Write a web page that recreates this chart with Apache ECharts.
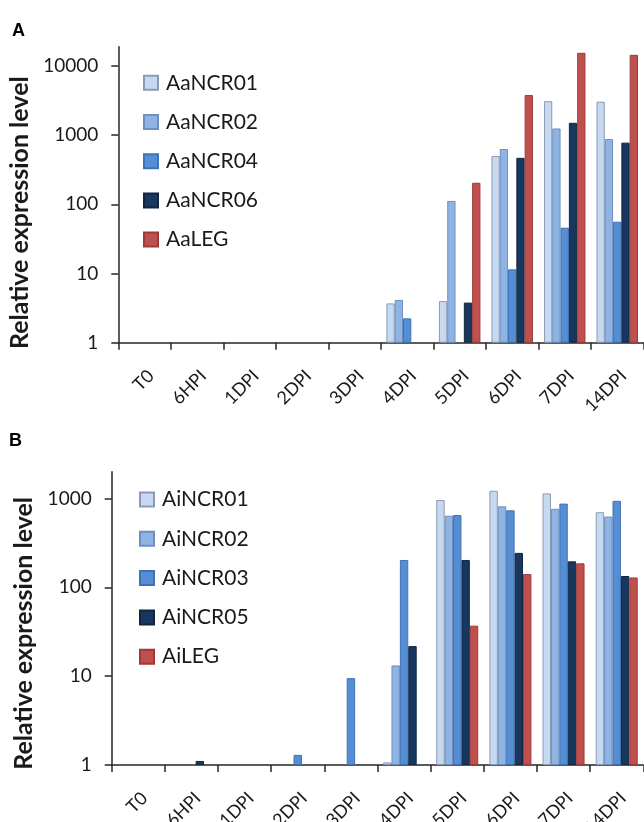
<!DOCTYPE html>
<html>
<head>
<meta charset="utf-8">
<script src="https://cdn.jsdelivr.net/npm/echarts@6/dist/echarts.min.js"></script>
<style>
  html, body { margin: 0; padding: 0; background: #ffffff; }
  #chart { width: 644px; height: 822px; }
</style>
</head>
<body>
<div id="chart"></div>
<script>
// ---- Data ----
const categories = ['T0', '6HPI', '1DPI', '2DPI', '3DPI', '4DPI', '5DPI', '6DPI', '7DPI', '14DPI'];
const yTicksA = [1, 10, 100, 1000, 10000];
const yTicksB = [1, 10, 100, 1000];

// Panel A
const namesA = ['AaNCR01', 'AaNCR02', 'AaNCR04', 'AaNCR06', 'AaLEG'];
const AaNCR01 = [null, null, null, null, null, 3.7, 4.0, 500, 3100, 3050];
const AaNCR02 = [null, null, null, null, null, 4.15, 112, 630, 1250, 880];
const AaNCR04 = [null, null, null, null, null, 2.25, null, 11.5, 46, 56];
const AaNCR06 = [null, null, null, null, null, null, 3.8, 470, 1510, 780];
const AaLEG   = [null, null, null, null, null, null, 205, 3800, 15500, 14500];

// Panel B
const namesB = ['AiNCR01', 'AiNCR02', 'AiNCR03', 'AiNCR05', 'AiLEG'];
const AiNCR01 = [null, null, null, null, null, 1.07, 960, 1220, 1140, 700];
const AiNCR02 = [null, null, null, null, null, 13.2, 640, 815, 765, 625];
const AiNCR03 = [null, null, null, 1.3, 9.5, 203, 650, 735, 875, 940];
const AiNCR05 = [null, 1.11, null, null, null, 21.8, 203, 244, 196, 134];
const AiLEG   = [null, null, null, null, null, null, 37, 141, 186, 129];

// ---- Styles ----
const fills   = ['#c6d9f1', '#8eb4e3', '#558ed5', '#17375e', '#c0504d'];
const borders = ['#8a9bb3', '#6f8fbd', '#3f72b5', '#10263f', '#9c3b39'];
const FONT = 'Lato, "Open Sans", sans-serif';
const TXT = '#1a1a1a';

const chart = echarts.init(document.getElementById('chart'), null, { renderer: 'canvas' });

function xAxisCfg(gridIndex) {
  return {
    type: 'category',
    gridIndex: gridIndex,
    data: categories,
    boundaryGap: true,
    axisLine: { show: true, lineStyle: { color: '#262626', width: 1.5 } },
    axisTick: { show: true, inside: false, length: 7, alignWithLabel: false, lineStyle: { color: '#262626', width: 1.5 } },
    axisLabel: { rotate: 45, fontSize: 18, fontFamily: FONT, color: TXT, margin: 24, interval: 0,
                 align: 'right', verticalAlign: 'top' },
    splitLine: { show: false }
  };
}
function yAxisCfg(gridIndex, maxV, ticks, gap, pad) {
  return {
    type: 'log',
    logBase: 10,
    gridIndex: gridIndex,
    min: 1,
    max: maxV,
    name: 'Relative expression level',
    nameLocation: 'middle',
    nameGap: gap,
    nameTextStyle: { fontSize: 25, fontWeight: 'bold', fontFamily: FONT, color: TXT, padding: pad },
    axisLine: { show: true, lineStyle: { color: '#262626', width: 1.5 } },
    axisTick: { show: true, inside: false, length: 7, customValues: ticks, lineStyle: { color: '#262626', width: 1.5 } },
    axisLabel: { fontSize: 19, fontFamily: FONT, color: TXT, margin: 20, customValues: ticks,
                 formatter: function (v) { return String(Math.round(v)); } },
    splitLine: { show: false },
    minorTick: { show: false }
  };
}

function makeSeries(names, arrays, axisIndex) {
  return names.map((n, i) => ({
    name: n,
    type: 'bar',
    xAxisIndex: axisIndex,
    yAxisIndex: axisIndex,
    data: arrays[i],
    barGap: '0%',
    barCategoryGap: '21%',
    itemStyle: { color: fills[i], borderColor: borders[i], borderWidth: 1 },
    emphasis: { disabled: true }
  }));
}

const legendBase = {
  orient: 'vertical',
  icon: 'rect',
  itemWidth: 14,
  itemHeight: 14,
  padding: 0,
  selectedMode: false,
  textStyle: { fontSize: 21, fontFamily: FONT, color: TXT, lineHeight: 20, padding: [0, 0, 0, 3] }
};

const option = {
  backgroundColor: '#ffffff',
  animation: false,
  textStyle: { fontFamily: FONT },
  grid: [
    { left: 118.3, right: 0.5, top: 46.7, height: 296, containLabel: false, outerBoundsMode: 'none' },
    { left: 111.7, right: 0.7, top: 471.7, height: 293.3, containLabel: false, outerBoundsMode: 'none' }
  ],
  xAxis: [xAxisCfg(0), xAxisCfg(1)],
  yAxis: [
    yAxisCfg(0, 19000, yTicksA, 82, [0, 36, 0, 0]),
    yAxisCfg(1, 2000, yTicksB, 71, [0, 30, 0, 0])
  ],
  legend: [
    Object.assign({}, legendBase, { data: namesA, left: 143, top: 72.3, itemGap: 18.2 }),
    Object.assign({}, legendBase, { data: namesB, left: 139, top: 489, itemGap: 18.3 })
  ],
  graphic: [
    { type: 'text', left: 12, top: 22, style: { text: 'A', fontSize: 18, fontWeight: 'bold', fontFamily: '"Liberation Sans", Arial, sans-serif', fill: '#000' } },
    { type: 'text', left: 9, top: 432, style: { text: 'B', fontSize: 18, fontWeight: 'bold', fontFamily: '"Liberation Sans", Arial, sans-serif', fill: '#000' } }
  ],
  series: [].concat(
    makeSeries(namesA, [AaNCR01, AaNCR02, AaNCR04, AaNCR06, AaLEG], 0),
    makeSeries(namesB, [AiNCR01, AiNCR02, AiNCR03, AiNCR05, AiLEG], 1)
  )
};

chart.setOption(option);
</script>
</body>
</html>
